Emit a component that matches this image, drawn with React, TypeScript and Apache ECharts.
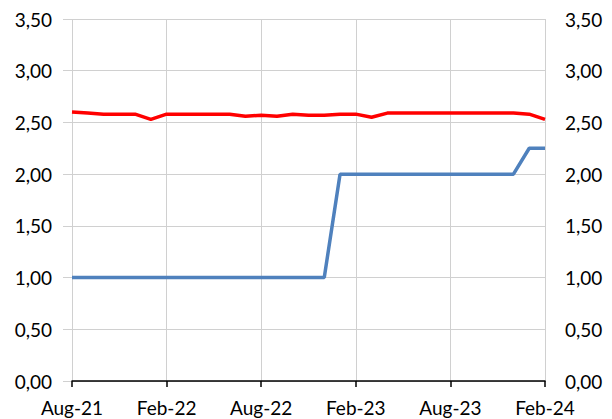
import React, { useEffect, useRef } from "react";
import * as echarts from "echarts";

const months = [
  "Aug-21","Sep-21","Oct-21","Nov-21","Dec-21","Jan-22","Feb-22","Mar-22","Apr-22","May-22","Jun-22","Jul-22",
  "Aug-22","Sep-22","Oct-22","Nov-22","Dec-22","Jan-23","Feb-23","Mar-23","Apr-23","May-23","Jun-23","Jul-23",
  "Aug-23","Sep-23","Oct-23","Nov-23","Dec-23","Jan-24","Feb-24",
];

const redSeries = [
  2.60, 2.59, 2.58, 2.58, 2.58, 2.53, 2.58, 2.58, 2.58, 2.58, 2.58, 2.56,
  2.57, 2.56, 2.58, 2.57, 2.57, 2.58, 2.58, 2.55, 2.59, 2.59, 2.59, 2.59,
  2.59, 2.59, 2.59, 2.59, 2.59, 2.58, 2.53,
];

const blueSeries = [
  1, 1, 1, 1, 1, 1, 1, 1, 1, 1, 1, 1,
  1, 1, 1, 1, 1, 2, 2, 2, 2, 2, 2, 2,
  2, 2, 2, 2, 2, 2.25, 2.25,
];

const FONT = "Lato";
const FS = 19;

export default function App() {
  const ref = useRef<HTMLDivElement>(null);
  useEffect(() => {
    if (!ref.current) return;
    const chart = echarts.init(ref.current, undefined, { renderer: "svg" });
    const fmt = (v: number) => v.toFixed(2).replace(".", ",");
    const labelBase = { formatter: fmt, color: "#000", fontSize: FS, fontFamily: FONT };
    chart.setOption({
      animation: false,
      backgroundColor: "#fff",
      grid: { left: 72, right: 67, top: 19, bottom: 38, containLabel: false },
      xAxis: {
        type: "category",
        data: months,
        boundaryGap: false,
        axisLine: { show: true, lineStyle: { color: "#000", width: 1.5 } },
        axisTick: { show: true, interval: 5, length: 6, lineStyle: { color: "#000", width: 1.5 } },
        splitLine: { show: true, interval: 5, lineStyle: { color: "#d0d0d0", width: 1 } },
        axisLabel: { interval: 5, color: "#000", fontSize: FS, fontFamily: FONT, margin: 17 },
      },
      yAxis: [
        {
          type: "value",
          position: "left",
          min: 0,
          max: 3.5,
          interval: 0.5,
          axisLine: { show: false },
          axisTick: { show: true, length: 9, lineStyle: { color: "#d0d0d0", width: 1 } },
          splitLine: { show: true, lineStyle: { color: "#d0d0d0", width: 1 } },
          axisLabel: { ...labelBase, margin: 20 },
        },
        {
          type: "value",
          position: "right",
          min: 0,
          max: 3.5,
          interval: 0.5,
          axisLine: { show: false },
          axisTick: { show: false },
          splitLine: { show: false },
          axisLabel: { ...labelBase, margin: 20 },
        },
      ],
      series: [
        {
          type: "line",
          data: redSeries,
          yAxisIndex: 0,
          showSymbol: false,
          lineStyle: { color: "#ff0000", width: 3.5 },
          z: 3,
        },
        {
          type: "line",
          data: blueSeries,
          yAxisIndex: 0,
          showSymbol: false,
          lineStyle: { color: "#4f81bd", width: 3.5 },
          z: 2,
        },
      ],
    });
    return () => chart.dispose();
  }, []);
  return <div ref={ref} style={{ width: 612, height: 419, position: "absolute", left: 0, top: 0 }} />;
}
